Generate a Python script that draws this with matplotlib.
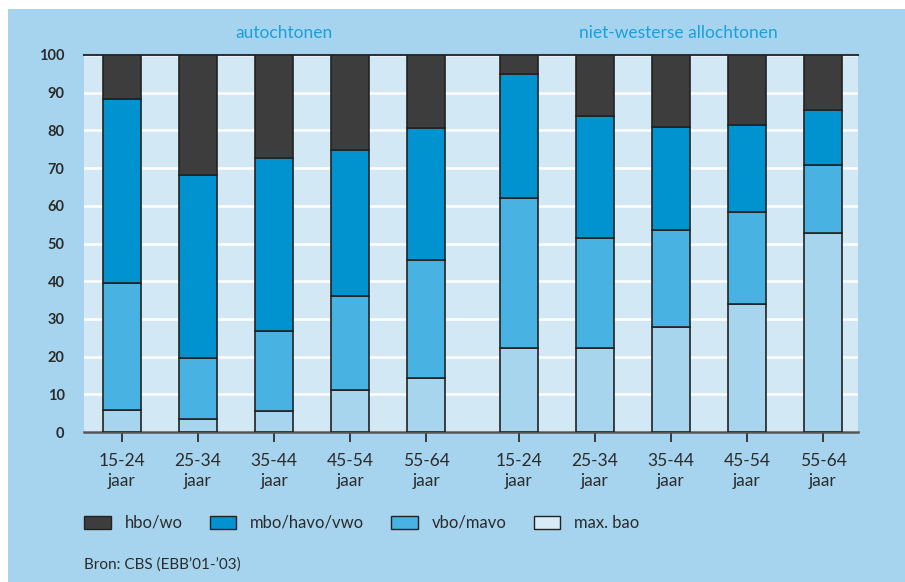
#!/usr/bin/env python3

"""Opleidingsniveau naar leeftijd: autochtonen vs niet-westerse allochtonen."""

import numpy as np
import matplotlib.pyplot as plt
from matplotlib.patches import Rectangle, Patch
from matplotlib import transforms

plt.rcParams['font.family'] = ['Lato', 'DejaVu Sans']

# Age groups, same for both groups.
age_labels = ['15-24\njaar', '25-34\njaar', '35-44\njaar', '45-54\njaar', '55-64\njaar']
group_titles = ['autochtonen', 'niet-westerse allochtonen']

# Cumulative tops (in procenten), per bar.
# First five bars: autochtonen, last five: niet-westerse allochtonen.
max_bao  = [5.8, 3.4, 5.5, 11.1, 14.3, 22.3, 22.4, 27.8, 34.0, 52.8]
vbo_mavo = [39.5, 19.7, 26.8, 36.1, 45.6, 62.0, 51.4, 53.6, 58.3, 70.8]
mbo_havo = [88.3, 68.3, 72.8, 74.7, 80.7, 94.9, 83.7, 81.0, 81.5, 85.5]
hbo_wo   = [100] * 10

series_names = ['hbo/wo', 'mbo/havo/vwo', 'vbo/mavo', 'max. bao']

# Colours.
PANEL  = '#a6d4ee'
PLOTBG = '#d2e8f5'
C_HBO  = '#3d3d3d'
C_MBO  = '#0093d0'
C_VBO  = '#48b2e2'
C_BAO  = '#a8d5ee'
TITLE  = '#1ba0dc'
TEXT   = '#2b2b2b'

fig = plt.figure(figsize=(9.05, 5.82), dpi=100)
fig.patch.set_facecolor('white')

# Light blue panel behind everything (a small white strip left and top).
fig.add_artist(Rectangle((8 / 905, 0), 1 - 8 / 905, 1 - 9 / 582,
                         transform=fig.transFigure, facecolor=PANEL,
                         edgecolor='none', zorder=-10))

ax = fig.add_axes([84 / 905, 150 / 582, 774 / 905, 377 / 582])
ax.set_facecolor(PLOTBG)

x = np.r_[np.arange(5), np.arange(5) + 5.22]
width = 0.5

tops = [max_bao, vbo_mavo, mbo_havo, hbo_wo]
colors = [C_BAO, C_VBO, C_MBO, C_HBO]
bottom = np.zeros(len(x))
for top, col in zip(tops, colors):
    top = np.asarray(top, dtype=float)
    ax.bar(x, top - bottom, width, bottom=bottom, color=col,
           edgecolor='#222222', linewidth=1.2, zorder=3)
    bottom = top

ax.set_xlim(-0.5, 9.68)
ax.set_ylim(0, 100)

# White horizontal gridlines.
ax.set_yticks(np.arange(0, 101, 10))
ax.yaxis.grid(True, color='white', linewidth=1.8, zorder=1)
ax.set_axisbelow(True)

ax.tick_params(axis='y', length=0, pad=14, labelsize=10.5, labelcolor=TEXT)
for lab in ax.get_yticklabels():
    lab.set_fontweight('bold')

ax.set_xticks(x)
ax.set_xticklabels(age_labels * 2, fontsize=12.5, color=TEXT, linespacing=1.3)
ax.tick_params(axis='x', length=7, width=1.2, color='#222222', pad=8)

for side in ['left', 'right']:
    ax.spines[side].set_visible(False)
ax.spines['top'].set_color('#333333')
ax.spines['top'].set_linewidth(1.5)
ax.spines['bottom'].set_color('#555555')
ax.spines['bottom'].set_linewidth(1.8)

# Group titles above the plot (slightly right of the group centre).
trans = transforms.blended_transform_factory(ax.transData, fig.transFigure)
ax.text(2.13, 1 - 33 / 582, group_titles[0], transform=trans, ha='center',
        va='center', color=TITLE, fontsize=12.5)
ax.text(7.32, 1 - 33 / 582, group_titles[1], transform=trans, ha='center',
        va='center', color=TITLE, fontsize=12.5)

# Legend.
handles = [Patch(facecolor=c, edgecolor='#222222', linewidth=1.0)
           for c in [C_HBO, C_MBO, C_VBO, '#d8ecf7']]
fig.legend(handles, series_names, ncol=4, frameon=False,
           loc='center left', bbox_to_anchor=(69 / 905, 1 - 523 / 582),
           handlelength=1.6, handleheight=0.85, handletextpad=0.85,
           columnspacing=1.6, fontsize=12, labelcolor=TEXT)

fig.text(84 / 905, 1 - 565 / 582, "Bron: CBS (EBB\u201901-\u201903)",
         fontsize=11, color=TEXT, ha='left', va='center')

fig.savefig('out.png', dpi=100, facecolor=fig.get_facecolor())
